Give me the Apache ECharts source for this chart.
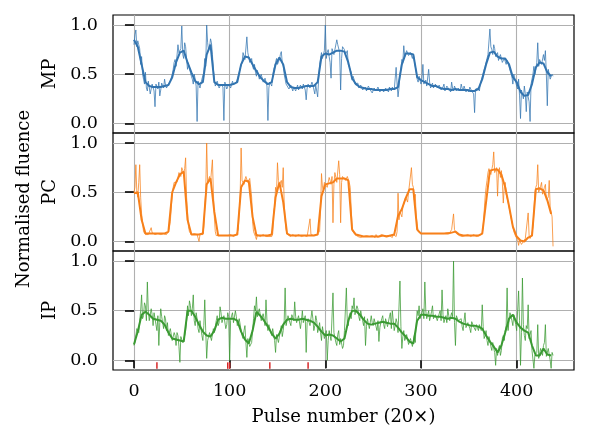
<!DOCTYPE html>
<html><head><meta charset="utf-8">
<script src="https://cdn.jsdelivr.net/npm/echarts@6/dist/echarts.min.js"></script>
<style>html,body{margin:0;padding:0;background:#fff}#c{width:600px;height:432px}</style>
</head><body><div id="c"></div><script>
const xTicks=[0,100,200,300,400];
const yTicks=[0,0.5,1];
const panelNames=['MP','PC','IP'];
const smoothStep=4;
// raw values at even pulse numbers (0,2,...,438)
const mpRawEven=[
0.80,0.95,0.84,0.76,0.68,0.45,0.52,0.33,0.42,0.35,
0.40,0.17,0.38,0.42,0.34,0.39,0.45,0.36,0.40,0.43,
0.50,0.62,0.58,0.80,0.70,0.99,0.66,0.78,0.55,0.62,
0.48,0.40,0.45,0.02,0.44,0.37,0.45,0.66,1.00,0.74,
0.86,0.70,0.45,0.36,0.41,0.38,0.42,0.03,0.40,0.37,
0.41,0.37,0.40,0.38,0.44,0.52,0.58,0.72,0.65,0.88,
0.70,0.62,0.58,0.60,0.48,0.55,0.45,0.49,0.40,0.44,
0.03,0.42,0.38,0.55,0.62,0.60,0.65,0.73,0.58,0.45,
0.40,0.35,0.39,0.33,0.38,0.36,0.34,0.39,0.35,0.38,
0.24,0.40,0.36,0.42,0.37,0.39,0.27,0.60,0.72,0.66,
1.00,0.72,0.68,0.46,0.78,0.70,0.85,0.80,0.34,0.78,
0.75,0.72,0.60,0.58,0.44,0.45,0.38,0.41,0.35,0.38,
0.33,0.37,0.32,0.36,0.34,0.31,0.37,0.33,0.35,0.32,
0.36,0.33,0.38,0.32,0.35,0.37,0.34,0.57,0.27,0.50,
0.65,0.79,0.70,0.72,0.68,0.73,0.70,0.58,0.45,0.48,
0.40,0.60,0.42,0.38,0.55,0.36,0.41,0.37,0.40,0.35,
0.38,0.34,0.40,0.33,0.37,0.36,0.42,0.33,0.36,0.34,
0.35,0.40,0.33,0.36,0.34,0.32,0.37,0.34,0.11,0.33,
0.36,0.40,0.43,0.55,0.62,0.70,0.96,0.75,0.80,0.68,
0.72,0.62,0.70,0.60,0.68,0.64,0.58,0.52,0.40,0.48,
0.38,0.45,0.05,0.30,0.38,0.12,0.30,0.02,0.42,0.58,
0.55,0.82,0.65,0.60,0.70,0.74,0.18,0.55,0.46,0.48];
// raw values at odd pulse numbers (1,3,...,437)
const mpRawOdd=[
0.90,0.78,0.80,0.60,0.50,0.40,0.36,0.43,0.30,0.40,
0.33,0.40,0.35,0.28,0.41,0.36,0.39,0.34,0.42,0.46,
0.55,0.65,0.60,0.72,0.76,0.70,0.82,0.65,0.60,0.52,
0.45,0.50,0.38,0.43,0.36,0.45,0.52,0.58,0.82,0.77,
0.82,0.55,0.38,0.43,0.36,0.40,0.37,0.42,0.35,0.40,
0.36,0.43,0.38,0.42,0.40,0.56,0.62,0.70,0.64,0.72,
0.62,0.66,0.55,0.52,0.54,0.45,0.50,0.42,0.46,0.38,
0.36,0.44,0.48,0.58,0.66,0.62,0.70,0.62,0.50,0.40,
0.38,0.34,0.40,0.37,0.33,0.39,0.35,0.37,0.40,0.34,
0.36,0.41,0.35,0.39,0.30,0.40,0.44,0.58,0.66,0.74,
0.66,0.75,0.62,0.76,0.70,0.68,0.80,0.72,0.66,0.76,
0.70,0.74,0.58,0.52,0.48,0.40,0.42,0.36,0.39,0.34,
0.36,0.33,0.38,0.34,0.31,0.36,0.33,0.37,0.32,0.35,
0.32,0.36,0.34,0.37,0.33,0.36,0.32,0.40,0.36,0.55,
0.62,0.68,0.74,0.69,0.72,0.66,0.68,0.52,0.42,0.46,
0.46,0.40,0.44,0.39,0.42,0.38,0.36,0.40,0.36,0.39,
0.34,0.37,0.33,0.38,0.35,0.32,0.36,0.38,0.33,0.36,
0.33,0.36,0.38,0.32,0.35,0.37,0.33,0.30,0.35,0.34,
0.33,0.44,0.46,0.58,0.66,0.72,0.78,0.70,0.76,0.66,
0.64,0.70,0.62,0.66,0.60,0.66,0.54,0.48,0.50,0.42,
0.35,0.28,0.34,0.25,0.30,0.32,0.22,0.40,0.50,0.50,
0.62,0.58,0.66,0.58,0.64,0.50,0.55,0.45,0.50];
const mpSmooth=[
0.85,0.78,0.60,0.42,0.38,0.37,0.37,0.37,0.38,0.39,
0.47,0.62,0.72,0.74,0.62,0.52,0.43,0.40,0.42,0.70,
0.80,0.42,0.39,0.39,0.39,0.39,0.40,0.42,0.60,0.68,
0.67,0.60,0.53,0.47,0.43,0.40,0.42,0.60,0.67,0.60,
0.42,0.37,0.36,0.36,0.37,0.38,0.38,0.38,0.42,0.68,
0.71,0.70,0.72,0.74,0.74,0.73,0.62,0.46,0.40,0.37,
0.36,0.35,0.35,0.34,0.34,0.34,0.34,0.35,0.35,0.37,
0.60,0.71,0.71,0.70,0.47,0.44,0.42,0.40,0.38,0.38,
0.36,0.35,0.35,0.34,0.35,0.34,0.34,0.34,0.33,0.33,
0.35,0.45,0.60,0.72,0.73,0.68,0.66,0.66,0.60,0.47,
0.42,0.32,0.28,0.29,0.40,0.57,0.62,0.61,0.52,0.48];
const pcRawEven=[
0.50,0.78,0.45,0.78,0.28,0.10,0.07,0.09,0.07,0.14,
0.08,0.07,0.09,0.08,0.07,0.09,0.08,0.07,0.10,0.20,
0.48,0.60,0.58,0.65,0.70,0.75,0.68,0.85,0.30,0.10,
0.07,0.06,0.08,0.07,0.00,0.08,0.07,0.35,1.00,0.62,
0.60,0.83,0.25,0.06,0.05,0.07,0.06,0.05,0.07,0.06,
0.06,0.07,0.05,0.06,0.07,0.30,0.95,0.60,0.63,0.66,
0.58,0.62,0.20,0.08,0.02,0.06,0.05,0.07,0.06,0.05,
0.06,0.07,0.05,0.30,0.55,0.80,0.58,0.62,0.75,0.22,
0.08,0.06,0.05,0.07,0.06,0.05,0.07,0.06,0.05,0.06,
0.06,0.07,0.23,0.05,0.06,0.07,0.06,0.10,0.69,0.52,
0.62,0.55,0.65,0.58,0.19,0.70,0.60,0.82,0.19,0.66,
0.68,0.62,0.64,0.55,0.15,0.09,0.06,0.05,0.07,0.04,
0.05,0.06,0.04,0.05,0.07,0.05,0.04,0.06,0.05,0.07,
0.05,0.04,0.06,0.05,0.07,0.04,0.06,0.05,0.49,0.30,
0.25,0.38,0.45,0.40,0.52,0.75,0.55,0.48,0.18,0.10,
0.08,0.09,0.07,0.08,0.09,0.07,0.08,0.10,0.07,0.08,
0.09,0.07,0.08,0.10,0.08,0.09,0.12,0.28,0.10,0.07,
0.06,0.05,0.07,0.06,0.04,0.07,0.05,0.06,0.07,0.05,
0.06,0.05,0.08,0.30,0.55,0.70,0.75,0.70,0.91,0.72,
0.46,0.75,0.72,0.39,0.60,0.50,0.38,0.25,0.15,0.08,
0.04,-0.04,0.02,-0.04,0.01,0.05,0.29,0.03,0.08,0.30,
0.55,0.78,0.50,0.60,0.48,0.58,0.40,0.62,0.30,-0.05];
const pcRawOdd=[
0.55,0.50,0.60,0.45,0.20,0.08,0.09,0.07,0.08,0.09,
0.07,0.09,0.08,0.07,0.09,0.08,0.07,0.09,0.14,0.35,
0.55,0.62,0.60,0.70,0.66,0.72,0.74,0.45,0.15,0.08,
0.06,0.08,0.07,0.05,0.07,0.06,0.15,0.50,0.60,0.66,
0.60,0.50,0.10,0.07,0.06,0.05,0.07,0.06,0.05,0.07,
0.07,0.05,0.06,0.07,0.12,0.48,0.62,0.58,0.66,0.60,
0.64,0.45,0.10,0.05,0.07,0.06,0.05,0.07,0.06,0.07,
0.05,0.07,0.08,0.35,0.50,0.62,0.58,0.55,0.40,0.12,
0.07,0.05,0.06,0.07,0.05,0.06,0.07,0.05,0.06,0.07,
0.05,0.06,0.07,0.06,0.05,0.07,0.06,0.30,0.55,0.60,
0.60,0.56,0.62,0.66,0.58,0.65,0.62,0.68,0.60,0.65,
0.62,0.66,0.60,0.35,0.10,0.07,0.05,0.06,0.04,0.06,
0.04,0.06,0.05,0.04,0.06,0.05,0.07,0.04,0.06,0.05,
0.06,0.05,0.04,0.06,0.05,0.07,0.05,0.10,0.22,0.32,
0.35,0.42,0.44,0.50,0.48,0.58,0.42,0.25,0.10,0.08,
0.07,0.08,0.09,0.07,0.08,0.10,0.07,0.08,0.09,0.07,
0.08,0.10,0.07,0.09,0.08,0.11,0.14,0.12,0.08,0.06,
0.07,0.05,0.06,0.05,0.07,0.06,0.05,0.07,0.06,0.05,
0.06,0.07,0.15,0.45,0.62,0.74,0.68,0.78,0.70,0.75,
0.70,0.65,0.60,0.55,0.48,0.40,0.30,0.20,0.10,0.05,
0.02,0.01,-0.03,0.00,0.03,0.02,0.06,0.04,0.15,0.50,
0.58,0.50,0.56,0.48,0.55,0.42,0.45,0.35,0.25];
const pcSmooth=[
0.49,0.50,0.22,0.08,0.08,0.08,0.08,0.08,0.08,0.10,
0.50,0.60,0.68,0.71,0.22,0.07,0.07,0.07,0.08,0.58,
0.64,0.30,0.06,0.06,0.06,0.06,0.06,0.07,0.55,0.62,
0.61,0.25,0.06,0.06,0.06,0.06,0.07,0.45,0.60,0.40,
0.08,0.06,0.06,0.06,0.06,0.06,0.06,0.06,0.07,0.46,
0.58,0.59,0.60,0.64,0.64,0.64,0.62,0.12,0.07,0.06,
0.05,0.05,0.05,0.05,0.05,0.06,0.05,0.06,0.07,0.26,
0.33,0.44,0.53,0.53,0.12,0.08,0.08,0.08,0.08,0.08,
0.08,0.08,0.08,0.09,0.10,0.07,0.06,0.06,0.06,0.06,
0.06,0.08,0.40,0.72,0.73,0.73,0.68,0.55,0.36,0.15,
0.05,0.01,0.00,0.04,0.06,0.53,0.54,0.52,0.42,0.28];
const ipRawEven=[
0.15,0.20,0.30,0.40,0.66,0.45,0.55,0.79,0.40,0.52,
0.35,0.48,0.30,0.15,0.52,0.38,0.45,0.30,0.25,0.32,
0.20,0.28,0.15,0.25,-0.02,0.22,0.18,0.30,0.55,0.60,
0.45,0.66,0.35,0.42,0.28,0.38,0.20,0.61,0.02,0.22,
0.30,0.18,0.28,0.40,0.35,0.54,0.38,0.45,0.32,0.48,
0.00,0.45,0.38,0.50,0.35,0.42,0.30,0.22,0.35,0.03,
0.20,0.12,0.30,0.55,0.64,0.45,0.50,0.38,0.42,0.61,
0.30,0.38,0.25,0.32,0.08,0.28,0.18,0.35,0.30,0.73,
0.40,0.45,0.35,0.48,0.59,0.38,0.45,0.32,0.50,0.40,
0.08,0.42,0.35,0.50,0.30,0.45,0.28,0.38,0.20,0.35,
0.25,0.00,0.30,0.20,0.68,0.28,0.15,0.30,0.22,0.12,
0.30,0.73,0.35,0.48,0.55,0.63,0.45,0.52,0.40,0.48,
0.35,0.15,0.42,0.32,0.45,0.35,0.42,0.30,0.19,0.38,
0.45,0.32,0.40,0.35,0.48,0.50,0.30,0.42,0.28,0.80,
0.12,0.30,0.22,0.28,0.15,0.20,0.12,0.18,0.50,0.55,
0.40,0.52,0.79,0.42,0.50,0.38,0.55,0.40,0.48,0.42,
0.50,0.71,0.38,0.45,0.52,0.40,0.48,1.00,0.15,0.45,
0.38,0.42,0.30,0.48,0.35,0.40,0.28,0.38,0.32,0.36,
0.30,0.38,0.56,0.22,0.30,0.15,0.20,0.10,0.12,-0.05,
0.05,0.15,0.10,0.25,0.30,0.73,0.40,0.50,0.35,0.45,
0.30,0.70,-0.05,0.83,0.25,0.35,0.56,0.20,0.10,-0.08,
0.05,0.36,0.00,0.10,0.15,0.36,0.02,0.10,-0.08,0.05];
const ipRawOdd=[
0.18,0.32,0.28,0.50,0.42,0.58,0.40,0.50,0.38,0.46,
0.48,0.36,0.45,0.38,0.44,0.32,0.42,0.38,0.24,0.30,
0.18,0.25,0.28,0.14,0.24,0.18,0.25,0.40,0.45,0.55,
0.52,0.40,0.48,0.32,0.40,0.25,0.35,0.30,0.20,0.28,
0.20,0.32,0.30,0.45,0.38,0.48,0.40,0.46,0.36,0.44,
0.40,0.48,0.36,0.44,0.38,0.40,0.25,0.30,0.18,0.22,
0.14,0.18,0.42,0.50,0.44,0.52,0.40,0.47,0.35,0.40,
0.36,0.28,0.32,0.20,0.26,0.18,0.30,0.24,0.40,0.35,
0.45,0.38,0.46,0.40,0.44,0.36,0.47,0.40,0.38,0.45,
0.38,0.44,0.36,0.42,0.35,0.40,0.32,0.28,0.34,0.22,
0.30,0.20,0.32,0.22,0.28,0.18,0.26,0.16,0.24,0.15,
0.28,0.38,0.45,0.42,0.52,0.46,0.55,0.44,0.50,0.40,
0.44,0.34,0.40,0.30,0.38,0.42,0.34,0.40,0.33,0.42,
0.36,0.42,0.34,0.44,0.32,0.40,0.35,0.38,0.30,0.34,
0.24,0.20,0.26,0.16,0.22,0.14,0.25,0.38,0.45,0.42,
0.48,0.42,0.50,0.44,0.40,0.49,0.42,0.46,0.40,0.47,
0.40,0.46,0.42,0.38,0.45,0.40,0.44,0.38,0.45,0.40,
0.42,0.34,0.40,0.33,0.38,0.32,0.39,0.34,0.30,0.38,
0.36,0.30,0.34,0.25,0.20,0.24,0.14,0.18,0.08,0.12,
0.12,0.05,0.22,0.20,0.35,0.30,0.48,0.40,0.46,0.36,
0.32,0.40,0.28,0.36,0.20,0.32,0.22,0.30,0.12,0.05,
0.08,0.02,0.12,0.05,0.18,0.04,0.12,0.00,0.08];
const ipSmooth=[
0.16,0.29,0.46,0.49,0.46,0.42,0.41,0.40,0.36,0.28,
0.22,0.21,0.20,0.19,0.50,0.50,0.44,0.36,0.29,0.25,
0.24,0.30,0.41,0.43,0.42,0.42,0.42,0.40,0.29,0.21,
0.17,0.30,0.49,0.45,0.40,0.34,0.27,0.22,0.27,0.36,
0.41,0.42,0.41,0.41,0.42,0.41,0.40,0.38,0.34,0.29,
0.25,0.26,0.25,0.22,0.19,0.22,0.40,0.50,0.50,0.46,
0.41,0.37,0.36,0.37,0.38,0.39,0.38,0.37,0.37,0.33,
0.28,0.24,0.19,0.17,0.40,0.46,0.46,0.45,0.45,0.44,
0.44,0.43,0.42,0.43,0.42,0.39,0.37,0.36,0.35,0.35,
0.34,0.32,0.25,0.19,0.14,0.08,0.15,0.28,0.42,0.46,
0.38,0.33,0.30,0.28,0.15,0.05,0.05,0.12,0.06,0.05];
const redMarks=[24,98,100,142,182];
const redMarkLow=-0.085, redMarkHigh=-0.02;

const colors=['#3274b0','#f7801a','#3a9a32'];
const FONT='"DejaVu Serif", serif';
const FS_TICK=17.5, FS_LABEL=18;
const xMin=-21.9, xMax=459.9, yMin=-0.097, yMax=1.102;
const grids=[{top:15,height:118},{top:133,height:118},{top:251,height:119}];
function mergeRaw(even,odd){
  const out=[];
  for(let k=0;k<even.length;k++){
    out.push([2*k,even[k]]);
    if(k<odd.length) out.push([2*k+1,odd[k]]);
  }
  return out;
}
const raws=[mergeRaw(mpRawEven,mpRawOdd),mergeRaw(pcRawEven,pcRawOdd),mergeRaw(ipRawEven,ipRawOdd)];
const smooths=[mpSmooth,pcSmooth,ipSmooth];

const chart=echarts.init(document.getElementById('c'),null,{renderer:'canvas'});
const option={
  animation:false,
  grid:grids.map(g=>({left:113,width:461,top:g.top,height:g.height,show:true,borderColor:'#000',borderWidth:1.2,backgroundColor:'transparent'})),
  xAxis:grids.map((g,i)=>({
    type:'value',gridIndex:i,min:xMin,max:xMax,
    axisLine:{show:false},
    axisTick:{show:i===2,customValues:xTicks,length:8,lineStyle:{color:'#000',width:1.6}},
    axisLabel:{show:i===2,customValues:xTicks,margin:12,fontFamily:FONT,fontSize:FS_TICK,color:'#000'},
    splitLine:{show:true,lineStyle:{color:'#b0b0b0',width:1.1}},
    name:i===2?'Pulse number (20×)':'',nameLocation:'middle',nameGap:38,
    nameTextStyle:{fontFamily:FONT,fontSize:FS_LABEL,color:'#000'}
  })),
  yAxis:grids.map((g,i)=>({
    type:'value',gridIndex:i,min:yMin,max:yMax,
    axisLine:{show:false},
    axisTick:{show:true,customValues:yTicks,length:9,lineStyle:{color:'#000',width:1.6}},
    axisLabel:{customValues:yTicks,margin:15,fontFamily:FONT,fontSize:FS_TICK,color:'#000',formatter:v=>v.toFixed(1)},
    splitLine:{show:true,lineStyle:{color:'#b0b0b0',width:1.1}},
    name:panelNames[i],nameLocation:'middle',nameGap:52,
    nameTextStyle:{fontFamily:FONT,fontSize:FS_LABEL,color:'#000'}
  })),
  graphic:[{type:'text',x:24,y:199,rotation:Math.PI/2,
    style:{text:'Normalised fluence',font:FS_LABEL+'px '+FONT,fill:'#000',align:'center',verticalAlign:'middle'}}],
  series:[]
};
for(let i=0;i<3;i++){
  option.series.push({type:'line',xAxisIndex:i,yAxisIndex:i,showSymbol:false,
    data:raws[i],
    lineStyle:{color:colors[i],width:1,opacity:0.75},itemStyle:{color:colors[i]},z:2});
  option.series.push({type:'line',xAxisIndex:i,yAxisIndex:i,showSymbol:false,
    data:smooths[i].map((v,k)=>[k*smoothStep,v]),
    lineStyle:{color:colors[i],width:2},itemStyle:{color:colors[i]},z:3});
}
option.series.push({type:'custom',xAxisIndex:2,yAxisIndex:2,z:4,
  data:redMarks.map(x=>[x,redMarkLow]),
  renderItem:(params,api)=>{
    const x=api.value(0);
    const p1=api.coord([x,redMarkLow]),p2=api.coord([x,redMarkHigh]);
    return {type:'line',shape:{x1:p1[0],y1:p1[1],x2:p2[0],y2:p2[1]},style:{stroke:'#d62728',lineWidth:1.5}};
  }});
chart.setOption(option);
</script></body></html>
